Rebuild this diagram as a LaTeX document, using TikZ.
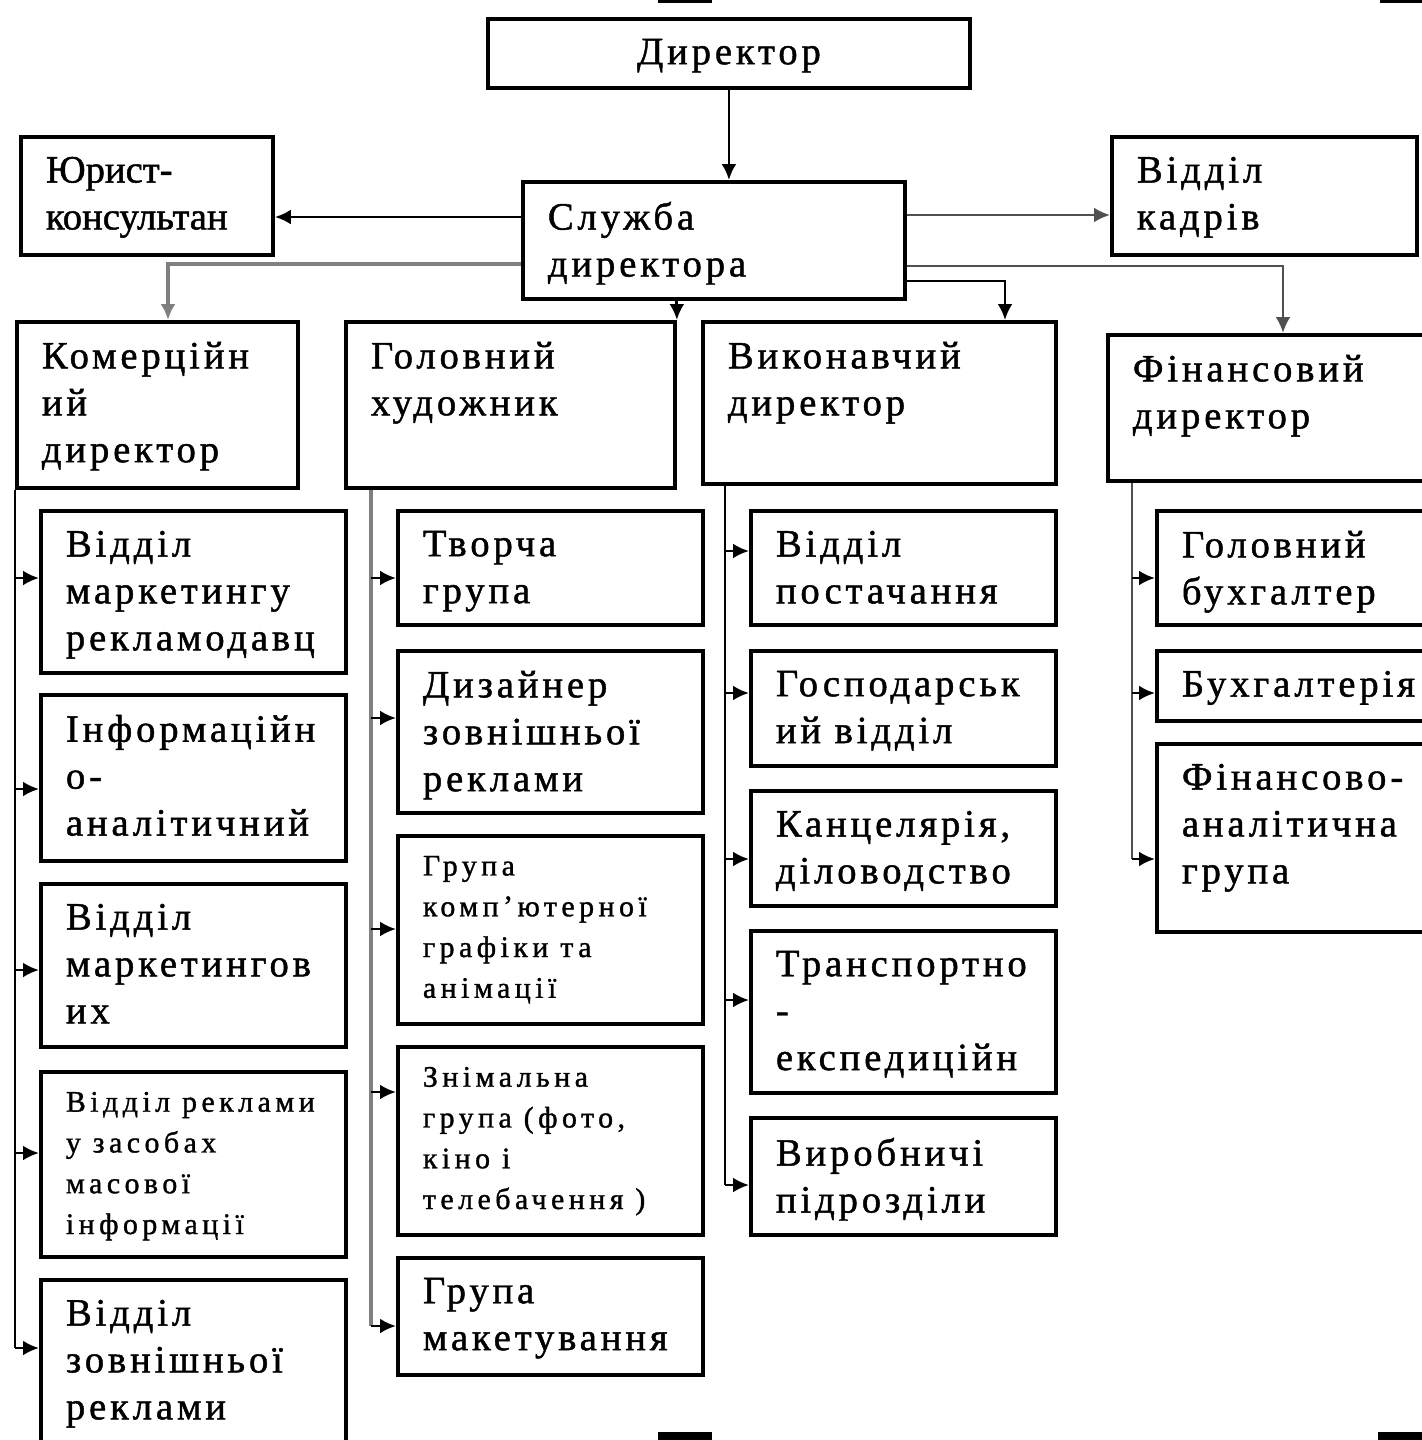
\documentclass[tikz,border=0pt]{standalone}
\usepackage{fontspec}
\setmainfont{Liberation Serif}[LetterSpace=10, FakeBold=1.2]
\newfontfamily\narrowfont{Liberation Serif}[LetterSpace=15, FakeBold=1.2]
\newfontfamily\plainfont{Liberation Serif}[FakeBold=1.2]
\usepackage{xcolor}
\usepackage{tikz}
\usetikzlibrary{arrows.meta}

\definecolor{wiregray}{HTML}{808080}
\definecolor{wiredark}{HTML}{505050}

\newlength\pxu
\setlength\pxu{0.02cm}
\newcommand\cell[3]{\parbox[c][\dimexpr#2\pxu-40\pxu\relax][t]{\dimexpr#1\pxu-50\pxu\relax}{\raggedright #3}}

\begin{document}
\begin{tikzpicture}[x=0.02cm, y=-0.02cm, -{Latex[length=0.32cm, width=0.3cm]}, line width=1.6pt, box/.style={draw, -, line width=2.2pt, inner xsep=0.5cm, inner ysep=0.4cm, anchor=north west, font=\fontsize{22}{26.7}\selectfont}, small/.style={font=\narrowfont\fontsize{17}{23.2}\selectfont}]
	\useasboundingbox (0,0) rectangle (1422,1440);
	% top level
	\node[box] (dir) at (486,17) {\cell{482}{69}{\centering Директор}};
	\node[box] (jur) at (19,135) {\cell{252}{118}{\plainfont Юрист-\\консультан}};
	\node[box] (svc) at (521,180) {\cell{382}{117}{Служба\\директора}};
	\node[box] (kadr) at (1110,135) {\cell{305}{118}{Відділ\\кадрів}};
	\node[box] (kom) at (15,320) {\cell{281}{166}{Комерційн\\ий\\директор}};
	\node[box] (hud) at (344,320) {\cell{329}{166}{Головний\\художник}};
	\node[box] (vyk) at (701,320) {\cell{353}{162}{Виконавчий\\директор}};
	\node[box] (fin) at (1106,333) {\cell{330}{146}{Фінансовий\\директор}};
	% commercial
	\node[box] (mk1) at (39,509) {\cell{305}{162}{Відділ\\маркетингу\\рекламодавц}};
	\node[box] (mk2) at (39,693) {\cell{305}{166}{Інформаційн\\о-\\аналітичний}};
	\node[box] (mk3) at (39,882) {\cell{305}{163}{Відділ\\маркетингов\\их}};
	\node[box, small] (mk4) at (39,1070) {\cell{305}{185}{Відділ реклами\\у засобах\\масової\\інформації}};
	\node[box] (mk5) at (39,1278) {\cell{305}{180}{Відділ\\зовнішньої\\реклами}};
	% art
	\node[box] (hd1) at (396,509) {\cell{305}{114}{Творча\\група}};
	\node[box] (hd2) at (396,649) {\cell{305}{162}{Дизайнер\\зовнішньої\\реклами}};
	\node[box, small] (hd3) at (396,834) {\cell{305}{188}{Група\\комп’ютерної\\графіки та\\анімації}};
	\node[box, small] (hd4) at (396,1045) {\cell{305}{188}{Знімальна\\група (фото,\\кіно і\\телебачення )}};
	\node[box] (hd5) at (396,1256) {\cell{305}{117}{Група\\макетування}};
	% executive
	\node[box] (vk1) at (749,509) {\cell{305}{114}{Відділ\\постачання}};
	\node[box] (vk2) at (749,649) {\cell{305}{115}{Господарськ\\ий відділ}};
	\node[box] (vk3) at (749,789) {\cell{305}{115}{Канцелярія,\\діловодство}};
	\node[box] (vk4) at (749,929) {\cell{305}{162}{Транспортно\\-\\експедиційн}};
	\node[box] (vk5) at (749,1116) {\cell{305}{117}{Виробничі\\підрозділи}};
	% finance
	\node[box] (fn1) at (1155,509) {\cell{280}{114}{Головний\\бухгалтер}};
	\node[box] (fn2) at (1155,649) {\cell{280}{70}{Бухгалтерія}};
	\node[box] (fn3) at (1155,742) {\cell{280}{188}{Фінансово-\\аналітична\\група}};

	\draw (dir.south) -- (dir.south |- svc.north);
	\draw (svc.west |- 0,217) -- (jur.east |- 0,217);
	\draw[wiredark] (svc.east |- 0,215) -- (kadr.west |- 0,215);
	\draw[wiregray, line width=2.4pt] (svc.west |- 0,264) -| (kom.north -| 168,0);
	\draw (svc.south -| hud.north east) -- (hud.north east);
	\draw (svc.east |- 0,281) -| (vyk.north -| 1005,0);
	\draw[wiredark] (svc.east |- 0,266) -| (fin.north -| 1283,0);

	\draw[-] (kom.south west) -- (kom.west |- 0,1348);
	\foreach \n/\y in {mk1/578, mk2/789, mk3/970, mk4/1153, mk5/1348}
		\draw (kom.west |- 0,\y) -- (\n.west |- 0,\y);
	\draw[-, wiregray, line width=2.2pt] (hud.south -| 371,0) -- (371,1326);
	\foreach \n/\y in {hd1/578, hd2/718, hd3/929, hd4/1092, hd5/1326}
		\draw (371,\y) -- (\n.west |- 0,\y);
	\draw[-] (vyk.south -| 725,0) -- (725,1185);
	\foreach \n/\y in {vk1/551, vk2/693, vk3/859, vk4/1000, vk5/1185}
		\draw (725,\y) -- (\n.west |- 0,\y);
	\draw[-, wiredark] (fin.south -| 1132,0) -- (1132,859);
	\foreach \n/\y in {fn1/578, fn2/693, fn3/859}
		\draw (1132,\y) -- (\n.west |- 0,\y);

	% page marks
	\fill (658,0) rectangle (712,3);
	\fill (1380,0) rectangle (1422,3);
	\fill (658,1432) rectangle (712,1440);
	\fill (1378,1432) rectangle (1422,1440);
\end{tikzpicture}
\end{document}
